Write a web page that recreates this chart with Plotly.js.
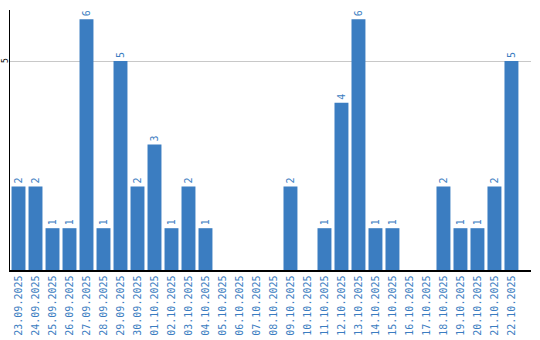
<!DOCTYPE html>
<html>
<head>
<meta charset="utf-8">
<script src="https://cdn.plot.ly/plotly-3.0.1.min.js"></script>
<style>html,body{margin:0;padding:0;background:#fff}#chart{width:540px;height:340px}</style>
</head>
<body>
<div id="chart"></div>
<script>
const dates = ["23.09.2025","24.09.2025","25.09.2025","26.09.2025","27.09.2025","28.09.2025","29.09.2025","30.09.2025","01.10.2025","02.10.2025","03.10.2025","04.10.2025","05.10.2025","06.10.2025","07.10.2025","08.10.2025","09.10.2025","10.10.2025","11.10.2025","12.10.2025","13.10.2025","14.10.2025","15.10.2025","16.10.2025","17.10.2025","18.10.2025","19.10.2025","20.10.2025","21.10.2025","22.10.2025"];
const counts = [2,2,1,1,6,1,5,2,3,1,2,1,0,0,0,0,2,0,1,4,6,1,1,0,0,2,1,1,2,5];
const yTickVals = [5];
const yTickText = ["5"];

const barColor = "#3b7dc1";
const labels = counts.map(v => v > 0 ? String(v) : "");

Plotly.newPlot("chart", [{
  type: "bar",
  x: dates,
  y: counts,
  marker: {color: barColor},
  text: labels,
  textposition: "outside",
  textangle: -90,
  cliponaxis: false,
  textfont: {family: "DejaVu Sans Mono", size: 10, color: barColor},
  hoverinfo: "none"
}], {
  width: 540, height: 340,
  margin: {l: 10, r: 9, t: 10, b: 70, pad: 0},
  paper_bgcolor: "#fff", plot_bgcolor: "#fff",
  showlegend: false,
  bargap: 0.18,
  xaxis: {
    type: "category",
    range: [-0.5, 30.15],
    showline: true, linecolor: "#000", linewidth: 1.5,
    ticks: "", showgrid: false, zeroline: false,
    tickangle: -90,
    tickfont: {family: "DejaVu Sans Mono", size: 10, color: barColor},
    automargin: false
  },
  yaxis: {
    range: [0, 6.22],
    showline: true, linecolor: "#000", linewidth: 1.5,
    ticks: "", showgrid: true, gridcolor: "#c8c8c8", gridwidth: 1,
    zeroline: false,
    tickvals: yTickVals,
    showticklabels: false,
    automargin: false
  },
  annotations: yTickVals.map((v, i) => ({
    xref: "paper", yref: "y", x: 0, y: v,
    text: yTickText[i], showarrow: false,
    textangle: -90, xanchor: "center", yanchor: "middle",
    xshift: -5,
    font: {family: "DejaVu Sans Mono", size: 8, color: "#000"}
  }))
}, {staticPlot: true, displayModeBar: false});
</script>
</body>
</html>
